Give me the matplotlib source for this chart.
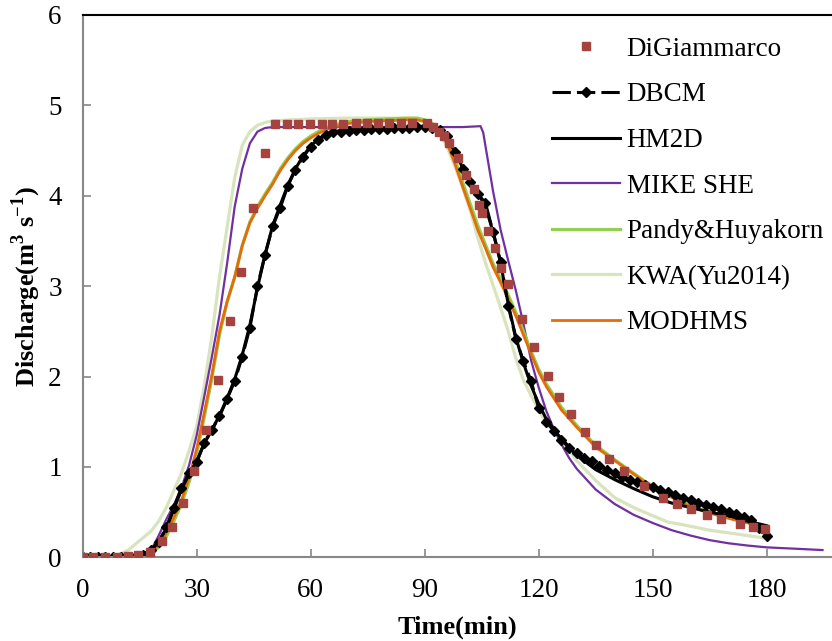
import matplotlib
matplotlib.use("Agg")
import matplotlib.pyplot as plt
import numpy as np

plt.rcParams['font.family'] = ['Liberation Serif', 'DejaVu Serif']
plt.rcParams['mathtext.fontset'] = 'custom'
plt.rcParams['mathtext.rm'] = 'Liberation Serif'
plt.rcParams['mathtext.bf'] = 'Liberation Serif:bold'

# observed data (DiGiammarco)
t_obs = [0, 2.8, 5.9, 8.9, 12, 14.6, 17.7, 20.8, 23.4, 26.5, 29.3, 32.4, 35.7, 38.8, 41.6, 44.9, 48,
         50.6, 53.7, 56.6, 59.8, 62.9, 65.5, 68.6, 71.8, 74.7, 77.8, 80.6, 83.7, 86.7, 90.6,
         92.3, 93.8, 95.1, 96.4, 98.8, 100.9, 103, 104.3, 105.2, 106.7, 108.5, 110.2, 111.8, 115.5,
         118.9, 122.4, 125.4, 128.5, 132.2, 135.1, 138.6, 142.5, 147.8, 152.8, 156.5, 160.2, 164.4,
         168, 173, 176.5, 179.6]
q_obs = [0, 0, 0, 0, 0.01, 0.03, 0.06, 0.18, 0.34, 0.60, 0.96, 1.41, 1.96, 2.61, 3.16, 3.86, 4.47,
         4.79, 4.79, 4.79, 4.79, 4.79, 4.79, 4.79, 4.80, 4.80, 4.80, 4.80, 4.80, 4.81, 4.81,
         4.76, 4.71, 4.66, 4.58, 4.42, 4.23, 4.07, 3.90, 3.81, 3.61, 3.42, 3.20, 3.02, 2.64,
         2.33, 2.01, 1.77, 1.58, 1.39, 1.24, 1.09, 0.95, 0.79, 0.66, 0.59, 0.53, 0.47,
         0.42, 0.37, 0.34, 0.31]

# DBCM, every 2 min
t_dbcm = np.arange(0, 181, 2)
q_dbcm = [0, 0, 0, 0, 0, 0, 0.005, 0.01, 0.03, 0.08, 0.17, 0.33, 0.55, 0.77, 0.93, 1.05, 1.27, 1.41,
          1.56, 1.75, 1.95, 2.22, 2.54, 3.00, 3.35, 3.66, 3.87, 4.11, 4.29, 4.43, 4.54, 4.62, 4.67,
          4.70, 4.71, 4.72, 4.73, 4.73, 4.74, 4.74, 4.74, 4.75, 4.75, 4.75, 4.76, 4.76, 4.75, 4.73,
          4.66, 4.48, 4.30, 4.15, 4.02, 3.92, 3.60, 3.27, 2.78, 2.42, 2.17, 1.95, 1.65, 1.50, 1.40,
          1.30, 1.21, 1.15, 1.10, 1.06, 1.01, 0.97, 0.93, 0.89, 0.86, 0.83, 0.80, 0.78, 0.75, 0.72,
          0.69, 0.66, 0.63, 0.60, 0.58, 0.56, 0.53, 0.50, 0.48, 0.45, 0.41, 0.32, 0.24]

t_hm2d = [0, 5, 10, 15, 18, 20, 22, 24, 26, 28, 30, 32, 34, 36, 38, 40, 42, 44, 46, 48, 50, 52, 54,
          56, 58, 60, 62, 64, 66, 70, 75, 80, 85, 90, 92, 94, 96, 98, 100, 102, 104, 106, 108, 110,
          112, 114, 116, 118, 120, 122, 125, 130, 135, 140, 145, 150, 155, 160, 165, 170, 175, 180]
q_hm2d = [0, 0, 0, 0.02, 0.08, 0.17, 0.32, 0.53, 0.75, 0.92, 1.06, 1.26, 1.41, 1.57, 1.76, 1.97,
          2.24, 2.57, 2.98, 3.35, 3.67, 3.90, 4.12, 4.30, 4.44, 4.55, 4.63, 4.68, 4.71, 4.73, 4.74,
          4.75, 4.76, 4.77, 4.76, 4.72, 4.64, 4.48, 4.31, 4.16, 4.03, 3.88, 3.60, 3.25, 2.80, 2.43,
          2.15, 1.90, 1.70, 1.53, 1.36, 1.13, 0.97, 0.86, 0.76, 0.67, 0.60, 0.55, 0.50, 0.46, 0.40,
          0.35]

t_mike = [0, 5, 10, 15, 17, 18, 20, 22, 24, 26, 28, 30, 32, 34, 36, 38, 40, 42, 44, 46, 48, 50, 60,
          80, 100, 104.7, 105.4, 108, 110, 112, 114, 116, 118, 120, 122, 124, 126, 128, 130, 135,
          140, 145, 150, 155, 160, 165, 170, 175, 180, 185, 190, 194.7]
q_mike = [0, 0, 0, 0.01, 0.04, 0.08, 0.24, 0.42, 0.58, 0.77, 1.02, 1.35, 1.78, 2.22, 2.68, 3.25,
          3.88, 4.30, 4.58, 4.71, 4.75, 4.76, 4.76, 4.76, 4.76, 4.77, 4.70, 4.05, 3.62, 3.28, 2.95,
          2.58, 2.18, 1.88, 1.62, 1.42, 1.25, 1.10, 0.98, 0.75, 0.59, 0.47, 0.38, 0.30, 0.24, 0.19,
          0.155, 0.13, 0.11, 0.10, 0.09, 0.08]

t_kwa = [0, 5, 8, 10, 12, 14, 16, 18, 20, 22, 24, 26, 28, 30, 32, 34, 36, 38, 40, 42, 44, 46, 48,
         50, 60, 70, 80, 88, 90, 92, 94, 96, 98, 100, 102, 104, 106, 108, 110, 112, 114, 116, 118,
         120, 122, 126, 130, 135, 140, 145, 150, 154, 158, 165, 170, 175, 180]
q_kwa = [0, 0, 0.01, 0.04, 0.08, 0.15, 0.22, 0.29, 0.40, 0.55, 0.74, 0.93, 1.18, 1.45, 1.90, 2.45,
         3.10, 3.65, 4.20, 4.56, 4.71, 4.78, 4.81, 4.83, 4.85, 4.86, 4.86, 4.85, 4.83, 4.80, 4.70,
         4.53, 4.32, 4.09, 3.84, 3.53, 3.26, 3.01, 2.76, 2.50, 2.20, 1.96, 1.79, 1.63, 1.48, 1.30,
         1.07, 0.85, 0.66, 0.55, 0.46, 0.39, 0.36, 0.30, 0.27, 0.24, 0.21]

t_mod = [0, 5, 10, 14, 16, 18, 20, 22, 24, 26, 28, 30, 32, 34, 36, 38, 40, 42, 44, 46, 48, 50, 52,
         54, 56, 58, 60, 62, 64, 66, 70, 75, 80, 85, 88, 90, 92, 94, 96, 98, 100, 102, 104, 106,
         108, 110, 112, 114, 116, 118, 120, 122, 126, 130, 135, 140, 144, 148, 152, 156, 160, 165,
         170, 175, 180]
q_mod = [0, 0, 0, 0.01, 0.02, 0.05, 0.14, 0.27, 0.44, 0.63, 0.88, 1.20, 1.60, 2.02, 2.50, 2.83,
         3.10, 3.45, 3.70, 3.86, 4.00, 4.13, 4.28, 4.40, 4.50, 4.58, 4.64, 4.69, 4.73, 4.76, 4.80,
         4.82, 4.83, 4.84, 4.84, 4.82, 4.78, 4.70, 4.57, 4.35, 4.10, 3.86, 3.62, 3.42, 3.21, 3.04,
         2.86, 2.67, 2.46, 2.25, 2.05, 1.89, 1.63, 1.44, 1.22, 1.07, 0.95, 0.83, 0.73, 0.64, 0.56,
         0.49, 0.43, 0.38, 0.33]

t_pandy = t_mod
q_pandy = [0, 0, 0, 0.005, 0.015, 0.04, 0.11, 0.23, 0.40, 0.59, 0.83, 1.14, 1.55, 1.98, 2.46, 2.82,
           3.10, 3.45, 3.71, 3.88, 4.02, 4.15, 4.30, 4.42, 4.52, 4.60, 4.66, 4.71, 4.75, 4.78, 4.82,
           4.84, 4.85, 4.86, 4.86, 4.84, 4.80, 4.73, 4.61, 4.40, 4.15, 3.91, 3.67, 3.46, 3.25, 3.08,
           2.90, 2.71, 2.50, 2.28, 2.08, 1.92, 1.66, 1.46, 1.24, 1.08, 0.96, 0.84, 0.74, 0.65, 0.57,
           0.50, 0.44, 0.39, 0.34]

fig = plt.figure(figsize=(8.32, 6.41), dpi=100)
ax = fig.add_axes([82.7/832, (641-557.3)/641, (832-82.7)/832, (557.3-15)/641])

h_kwa, = ax.plot(t_kwa, q_kwa, color='#D7E4BD', lw=2.3, label='KWA(Yu2014)')
h_mike, = ax.plot(t_mike, q_mike, color='#7030A0', lw=1.6, label='MIKE SHE')
h_pandy, = ax.plot(t_pandy, q_pandy, color='#92D050', lw=2.3, label='Pandy&Huyakorn')
h_mod, = ax.plot(t_mod, q_mod, color='#E46C0A', lw=2.0, label='MODHMS')
h_hm2d, = ax.plot(t_hm2d, q_hm2d, color='black', lw=2.2, label='HM2D')
h_dbcm, = ax.plot(t_dbcm, q_dbcm, color='black', lw=2.2, ls=(0, (6, 2)), marker='D',
                  markersize=5, label='DBCM')
h_obs, = ax.plot(t_obs, q_obs, ls='none', marker='s', markersize=6, color='#A5433F',
                 label='DiGiammarco', zorder=5)

ax.set_xlim(0, 197.2)
ax.set_ylim(0, 6)
ax.set_xticks([0, 30, 60, 90, 120, 150, 180])
ax.set_yticks([0, 1, 2, 3, 4, 5, 6])
ax.tick_params(direction='in', length=6, width=1.2, color='#888888', labelsize=19.5)
ax.tick_params(axis='x', pad=15)
ax.tick_params(axis='y', pad=15)

for s in ['left', 'bottom']:
    ax.spines[s].set_color('#888888')
    ax.spines[s].set_linewidth(1.5)
ax.spines['top'].set_color('black')
ax.spines['top'].set_linewidth(1.5)
ax.spines['right'].set_visible(False)

ax.set_xlabel('Time(min)', fontsize=19, fontweight='bold', labelpad=9)
ax.set_ylabel(r'Discharge(m$^\mathbf{3}$ s$^\mathbf{-1}$)', fontsize=19, fontweight='bold', labelpad=4)

handles = [h_obs, h_dbcm, h_hm2d, h_mike, h_pandy, h_kwa, h_mod]
ax.legend(handles=handles, loc='upper left', bbox_to_anchor=(0.6116, 0.9797), frameon=False,
          borderaxespad=0, fontsize=19.5, handlelength=2.5, handletextpad=0.26, labelspacing=0.76)

plt.savefig('out.png', dpi=100)
